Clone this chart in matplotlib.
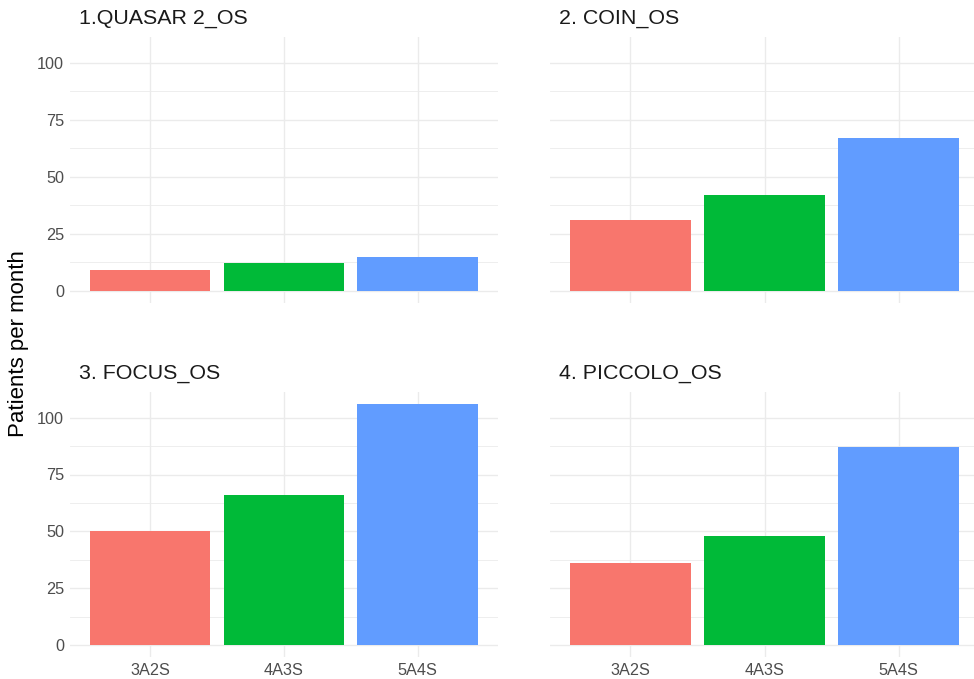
import numpy as np
import matplotlib.pyplot as plt

# data
categories = ['3A2S', '4A3S', '5A4S']
panel_titles = ['1.QUASAR 2_OS', '2. COIN_OS', '3. FOCUS_OS', '4. PICCOLO_OS']
quasar = [9, 12, 15]
coin = [31, 42, 67]
focus = [50, 66, 106]
piccolo = [36, 48, 87]
panel_values = [quasar, coin, focus, piccolo]

colors = ['#F8766D', '#00BA38', '#619CFF']
grid_col = '#EBEBEB'

plt.rcParams['font.family'] = ['Liberation Sans', 'DejaVu Sans']

W, H = 974, 679
fig = plt.figure(figsize=(W / 100, H / 100), dpi=100)

# panel boxes in pixels: left, top, right, bottom
boxes = [(69.6, 37, 498, 302.8), (550, 37, 979, 302.8),
         (69.6, 392, 498, 657), (550, 392, 979, 657)]

ymax = max(max(v) for v in panel_values)
ylo, yhi = -0.05 * ymax, 1.05 * ymax
x = np.arange(len(categories))

for i, (l, t, r, b) in enumerate(boxes):
    ax = fig.add_axes([l / W, 1 - b / H, (r - l) / W, (b - t) / H])
    ax.set_xlim(-0.6, len(categories) - 0.4)
    ax.set_ylim(ylo, yhi)
    ax.set_yticks([0, 25, 50, 75, 100])
    ax.set_yticks([12.5, 37.5, 62.5, 87.5], minor=True)
    ax.set_xticks(x)
    ax.grid(True, which='major', color=grid_col, linewidth=1.0, zorder=0)
    ax.grid(True, which='minor', axis='y', color=grid_col, linewidth=0.6, zorder=0)
    ax.set_axisbelow(True)
    for s in ax.spines.values():
        s.set_visible(False)
    ax.tick_params(which='both', length=0, labelsize=11.7, colors='#4D4D4D', pad=4)
    ax.bar(x, panel_values[i], width=0.9, color=colors, zorder=2)
    if i < 2:
        ax.set_xticklabels([])
    else:
        ax.set_xticklabels(categories)
    if i % 2 == 1:
        ax.set_yticklabels([])
    fig.text((l + 9) / W, 1 - (t - 19) / H, panel_titles[i], fontsize=15.4,
             color='#1A1A1A', ha='left', va='center')

fig.text(19 / W, 1 - 344 / H, 'Patients per month', rotation=90, fontsize=16,
         color='black', ha='center', va='center')

fig.savefig('out.png', dpi=100)
